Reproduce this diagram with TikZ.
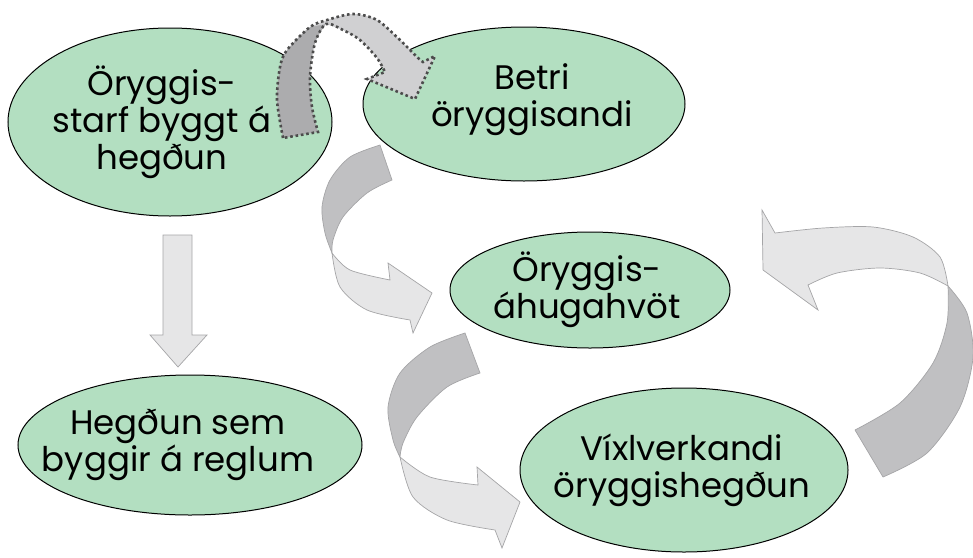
\documentclass[tikz,border=0pt]{standalone}
\usepackage{fontspec}
\setmainfont{Poppins}
\usetikzlibrary{shapes.geometric}

\definecolor{bubblegreen}{RGB}{179,223,193}
\definecolor{arrowdark}{RGB}{192,192,194}
\definecolor{arrowlight}{RGB}{230,230,231}
\definecolor{arrowline}{RGB}{165,165,167}
\definecolor{dotdark}{RGB}{172,172,174}
\definecolor{dotlight}{RGB}{208,208,210}

\begin{document}
\begin{tikzpicture}[x=1pt,y=-1pt,
	bubble/.style={ellipse, draw=black, line width=1pt, fill=bubblegreen, inner sep=0pt},
	txt/.style={inner sep=0pt, align=center, font=\fontsize{34}{37}\selectfont},
	back/.style={fill=arrowdark, draw=arrowline, line width=0.7pt},
	front/.style={fill=arrowlight, draw=arrowline, line width=0.7pt}]
	\useasboundingbox (0,0) rectangle (973,557);

	% curved arrows behind the bubbles
	\filldraw[back] plot[smooth] coordinates {(380,145) (350,157) (330,180) (322,207) (325,233) (332,253)}
		-- plot[smooth] coordinates {(332,253) (333,240) (343,217) (367,193) (392,180)} -- cycle;
	\filldraw[front] plot[smooth] coordinates {(332,253) (350,270) (390,280)} -- (388,263) -- (432,293) -- (413,333) -- (410,320)
		-- plot[smooth] coordinates {(410,320) (367,310) (340,287) (332,253)} -- cycle;

	\filldraw[back] plot[smooth] coordinates {(465,333) (430,347) (400,373) (388,407) (393,440) (400,457)}
		-- plot[smooth] coordinates {(400,457) (403,443) (417,417) (447,387) (480,373)} -- cycle;
	\filldraw[front] plot[smooth] coordinates {(400,457) (430,477) (478,485)} -- (477,467) -- (520,502) -- (502,548) -- (495,530)
		-- plot[smooth] coordinates {(495,530) (447,520) (413,497) (400,457)} -- cycle;

	\filldraw[back] plot[smooth] coordinates {(883,477) (927,453) (960,407) (973,357) (967,313) (948,286)}
		-- plot[smooth] coordinates {(948,286) (947,323) (933,363) (900,403) (855,430)} -- cycle;
	\filldraw[front] plot[smooth] coordinates {(948,286) (940,257) (913,237) (873,227) (823,228) (775,233)} -- (762,210) -- (763,270) -- (818,310) -- (808,285)
		-- plot[smooth] coordinates {(808,285) (837,273) (880,268) (920,273) (948,286)} -- cycle;

	% straight arrow
	\filldraw[front] (163,235) -- (192,235) -- (192,335) -- (207,335) -- (178,367) -- (150,335) -- (163,335) -- cycle;

	\node[bubble, minimum width=324, minimum height=188] (Ostarf) at (170,122) {};
	\node[bubble, minimum width=322, minimum height=154] (Betri) at (524,104) {};
	\node[bubble, minimum width=280, minimum height=116] (Ahugi) at (590,290) {};
	\node[bubble, minimum width=328, minimum height=164] (Vixl) at (684,470) {};
	\node[bubble, minimum width=344, minimum height=140] (Regla) at (190,445) {};

	\node[txt] (OstarfT) at ([xshift=-8pt]Ostarf.center) {Öryggis-\\starf byggt á\\hegðun};
	\node[txt] (BetriT) at ([xshift=8pt,yshift=4pt]Betri.center) {Betri\\öryggisandi};
	\node[txt] (AhugiT) at ([xshift=-3pt]Ahugi.center) {Öryggis-\\áhugahvöt};
	\node[txt] (VixlT) at ([xshift=-2pt]Vixl.center) {Víxlverkandi\\öryggishegðun};
	\node[txt] (ReglaT) at ([xshift=-12pt]Regla.center) {Hegðun sem\\byggir á reglum};

	% dotted arrow on top
	\fill[dotdark] plot[smooth] coordinates {(283,138) (277,100) (280,67) (287,50) (310,27) (326,24)}
		-- plot[smooth] coordinates {(326,24) (315,43) (310,77) (312,107) (318,132)} -- cycle;
	\fill[dotlight] plot[smooth] coordinates {(310,27) (327,20) (353,14) (377,20) (400,40) (417,57) (423,62)} -- (435,56) -- (415,99) -- (367,79) -- (385,72)
		-- plot[smooth] coordinates {(385,72) (377,58) (360,40) (343,30) (326,24)} -- cycle;
	\draw[black!70, line width=2.6pt, dash pattern=on 2.6pt off 2.8pt]
		plot[smooth] coordinates {(283,138) (277,100) (280,67) (287,50) (310,27) (327,20) (353,14) (377,20) (400,40) (417,57) (423,62)}
		-- (435,56) -- (415,99) -- (367,79) -- (385,72)
		-- plot[smooth] coordinates {(385,72) (377,58) (360,40) (343,30) (326,24) (315,43) (310,77) (312,107) (318,132)} -- cycle;
\end{tikzpicture}
\end{document}
